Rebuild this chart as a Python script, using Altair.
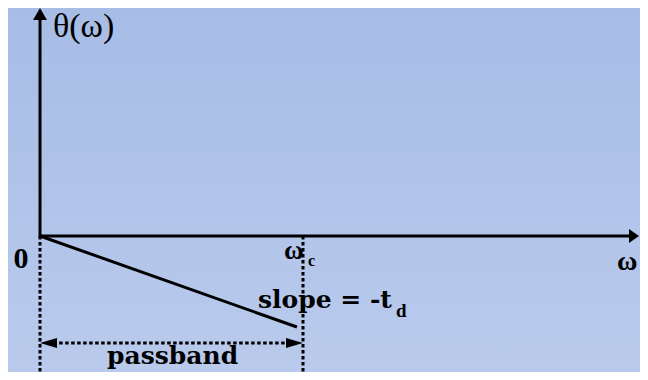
import altair as alt
import pandas as pd

# ---- data (omega in units of omega_c, theta in units of omega_c * t_d) ----
omega_line = [0.0, 0.977]          # linear-phase segment, from 0 to just before omega_c
theta_line = [0.0, -1.0]           # theta(omega) = -t_d * omega
omega_c = 1.0
dotted_omegas = [0.0, omega_c]     # passband limits

X_DOMAIN = [-0.1217, 2.2814]
Y_DOMAIN = [-1.4945, 2.5055]

W, H = 632, 364
SERIF = "Liberation Serif"
WIDE = "DejaVu Serif"

xs = alt.Scale(domain=X_DOMAIN, nice=False, zero=False)
ys = alt.Scale(domain=Y_DOMAIN, nice=False, zero=False)


def X(f="x"):
    return alt.X(f"{f}:Q", scale=xs, axis=None)


def Y(f="y"):
    return alt.Y(f"{f}:Q", scale=ys, axis=None)


# background gradient
bg = alt.Chart(pd.DataFrame({"x": [X_DOMAIN[0]], "x2": [X_DOMAIN[1]],
                             "y": [Y_DOMAIN[0]], "y2": [Y_DOMAIN[1]]})).mark_rect(
    fill=alt.LinearGradient(
        gradient="linear",
        stops=[alt.GradientStop(color="#a7bde6", offset=0),
               alt.GradientStop(color="#b9caec", offset=1)],
        x1=0, x2=0, y1=0, y2=1),
    strokeWidth=0,
).encode(x=X(), x2="x2:Q", y=Y(), y2="y2:Q")

# axes (solid rules)
axes_df = pd.DataFrame({
    "x": [0.0, 0.0], "x2": [0.0, 2.2433],
    "y": [-0.016, 0.0], "y2": [2.3736, 0.0],
})
axes = alt.Chart(axes_df).mark_rule(color="black", strokeWidth=3).encode(
    x=X(), x2="x2:Q", y=Y(), y2="y2:Q")

# arrowheads of the axes
up_arrow = alt.Chart(pd.DataFrame({"x": [0.0], "y": [2.4396]})).mark_point(
    shape="M-1,0.857L0,-0.857L1,0.857Z", size=196, filled=True,
    color="black", opacity=1, strokeWidth=0).encode(x=X(), y=Y())
right_arrow = alt.Chart(pd.DataFrame({"x": [2.2586], "y": [0.0]})).mark_point(
    shape="M-0.714,-1L0.714,0L-0.714,1Z", size=196, filled=True,
    color="black", opacity=1, strokeWidth=0).encode(x=X(), y=Y())

# phase line
phase = alt.Chart(pd.DataFrame({"x": omega_line, "y": theta_line})).mark_line(
    color="black", strokeWidth=3).encode(x=X(), y=Y())

# dotted verticals at 0 and omega_c
dots_df = pd.DataFrame({"x": dotted_omegas, "y": [0.0, 0.0],
                        "y2": [Y_DOMAIN[0], Y_DOMAIN[0]]})
dotted = alt.Chart(dots_df).mark_rule(color="black", strokeWidth=3,
                                      strokeDash=[3.5, 2.5]).encode(
    x=X(), y=Y(), y2="y2:Q")

# passband double arrow
pb_y = -1.1758
pb_line = alt.Chart(pd.DataFrame({"x": [0.05], "x2": [0.95], "y": [pb_y]})).mark_rule(
    color="black", strokeWidth=3, strokeDash=[3.5, 2.5]).encode(
    x=X(), x2="x2:Q", y=Y())
pb_left = alt.Chart(pd.DataFrame({"x": [0.0323], "y": [pb_y]})).mark_point(
    shape="M1,-0.588L-1,0L1,0.588Z", size=289, filled=True,
    color="black", opacity=1, strokeWidth=0).encode(x=X(), y=Y())
pb_right = alt.Chart(pd.DataFrame({"x": [0.9677], "y": [pb_y]})).mark_point(
    shape="M-1,-0.588L1,0L-1,0.588Z", size=289, filled=True,
    color="black", opacity=1, strokeWidth=0).encode(x=X(), y=Y())


def label(text, x, y, size, font=SERIF, weight="bold", align="left"):
    return alt.Chart(pd.DataFrame({"x": [x], "y": [y], "t": [text]})).mark_text(
        align=align, baseline="alphabetic", font=font, fontSize=size,
        fontWeight=weight, color="black").encode(x=X(), y=Y(), text="t:N")


labels = [
    label("θ(ω)", 0.0494, 2.1868, 34, weight="normal"),
    label("0", -0.0722, -0.3516, 30, align="center"),
    label("ω", 0.9278, -0.2527, 27),
    label("c", 1.0190, -0.3297, 16),
    label("slope = -t", 0.8289, -0.7912, 25, font=WIDE),
    label("d", 1.3536, -0.8901, 19),
    label("passband", 0.2548, -1.4066, 25, font=WIDE),
    label("ω", 2.1939, -0.3736, 28),
]

chart = alt.layer(bg, dotted, pb_line, pb_left, pb_right, axes, up_arrow,
                  right_arrow, phase, *labels).properties(
    width=W, height=H, padding=0,
    autosize=alt.AutoSizeParams(type="none"),
    background="#b0c5e9",
).configure_view(stroke=None)

chart.save("out.html", embed_options={"renderer": "svg", "actions": False})
